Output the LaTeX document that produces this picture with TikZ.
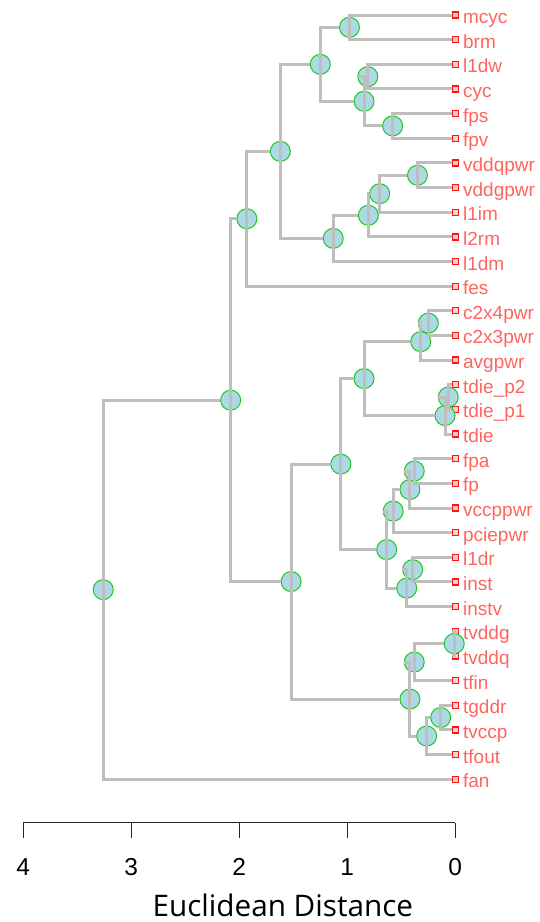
\documentclass[tikz,border=0pt]{standalone}
\usepackage{fontspec}
\setmainfont{Liberation Sans}
\newfontfamily\titlefont{Open Sans}
\usetikzlibrary{positioning}

\definecolor{linkgray}{RGB}{190,190,190}
\definecolor{dotblue}{RGB}{173,216,230}
\definecolor{dotgreen}{RGB}{30,200,30}
\definecolor{leafred}{RGB}{255,20,20}
\definecolor{leafpink}{RGB}{255,205,205}
\definecolor{labred}{RGB}{255,100,95}

\tikzset{
  merge/.style={circle, draw=dotgreen, fill=dotblue,
    line width=1pt, minimum size=20pt, inner sep=0pt},
  leaf/.style={rectangle, draw=leafred, fill=leafpink,
    line width=1.3pt, minimum size=6pt, inner sep=0pt},
  leaflab/.style={anchor=base west, inner sep=0pt, xshift=4pt, yshift=-8.5pt,
    text=labred, font=\fontsize{19}{19}\selectfont},
  link/.style={draw=linkgray, line width=3pt},
  axisline/.style={draw=black!85, line width=1.3pt},
  ticklab/.style={anchor=base, inner sep=0pt,
    font=\fontsize{24.5}{24.5}\selectfont},
  titlelab/.style={anchor=base, inner sep=0pt,
    font=\titlefont\fontsize{29.7}{29.7}\selectfont}
}

\begin{document}
\begin{tikzpicture}[x=-108pt, y=-1pt, on grid, node distance=24.65pt]

    \useasboundingbox (4.2157,0) rectangle (-0.7843,922);

    % leaves, height 0
    \node[leaf, label={[leaflab]right:mcyc}] (mcyc) at (0,15) {};
    \node[leaf, label={[leaflab]right:brm}, below=of mcyc] (brm) {};
    \node[leaf, label={[leaflab]right:l1dw}, below=of brm] (l1dw) {};
    \node[leaf, label={[leaflab]right:cyc}, below=of l1dw] (cyc) {};
    \node[leaf, label={[leaflab]right:fps}, below=of cyc] (fps) {};
    \node[leaf, label={[leaflab]right:fpv}, below=of fps] (fpv) {};
    \node[leaf, label={[leaflab]right:vddqpwr}, below=of fpv] (vddqpwr) {};
    \node[leaf, label={[leaflab]right:vddgpwr}, below=of vddqpwr] (vddgpwr) {};
    \node[leaf, label={[leaflab]right:l1im}, below=of vddgpwr] (l1im) {};
    \node[leaf, label={[leaflab]right:l2rm}, below=of l1im] (l2rm) {};
    \node[leaf, label={[leaflab]right:l1dm}, below=of l2rm] (l1dm) {};
    \node[leaf, label={[leaflab]right:fes}, below=of l1dm] (fes) {};
    \node[leaf, label={[leaflab]right:c2x4pwr}, below=of fes] (c2x4pwr) {};
    \node[leaf, label={[leaflab]right:c2x3pwr}, below=of c2x4pwr] (c2x3pwr) {};
    \node[leaf, label={[leaflab]right:avgpwr}, below=of c2x3pwr] (avgpwr) {};
    \node[leaf, label={[leaflab]right:tdie\_p2}, below=of avgpwr] (tdiep2) {};
    \node[leaf, label={[leaflab]right:tdie\_p1}, below=of tdiep2] (tdiep1) {};
    \node[leaf, label={[leaflab]right:tdie}, below=of tdiep1] (tdie) {};
    \node[leaf, label={[leaflab]right:fpa}, below=of tdie] (fpa) {};
    \node[leaf, label={[leaflab]right:fp}, below=of fpa] (fp) {};
    \node[leaf, label={[leaflab]right:vccppwr}, below=of fp] (vccppwr) {};
    \node[leaf, label={[leaflab]right:pciepwr}, below=of vccppwr] (pciepwr) {};
    \node[leaf, label={[leaflab]right:l1dr}, below=of pciepwr] (l1dr) {};
    \node[leaf, label={[leaflab]right:inst}, below=of l1dr] (inst) {};
    \node[leaf, label={[leaflab]right:instv}, below=of inst] (instv) {};
    \node[leaf, label={[leaflab]right:tvddg}, below=of instv] (tvddg) {};
    \node[leaf, label={[leaflab]right:tvddq}, below=of tvddg] (tvddq) {};
    \node[leaf, label={[leaflab]right:tfin}, below=of tvddq] (tfin) {};
    \node[leaf, label={[leaflab]right:tgddr}, below=of tfin] (tgddr) {};
    \node[leaf, label={[leaflab]right:tvccp}, below=of tgddr] (tvccp) {};
    \node[leaf, label={[leaflab]right:tfout}, below=of tvccp] (tfout) {};
    \node[leaf, label={[leaflab]right:fan}, below=of tfout] (fan) {};

    % merges at (height, middle of the two children)
    \node[merge] (root) at (3.26,589.65) {};
    \node[merge] (upper) at (2.08,400.16) {};
    \node[merge] (withfes) at (1.93,218.75) {};
    \node[merge] (cpu) at (1.62,151.35) {};
    \node[merge] (core) at (1.25,64.3) {};
    \node[merge] (mcbrm) at (0.98,27.33) {};
    \node[merge] (cycfp) at (0.845,101.28) {};
    \node[merge] (dwcyc) at (0.81,76.63) {};
    \node[merge] (fpsv) at (0.58,125.93) {};
    \node[merge] (mem) at (1.13,238.39) {};
    \node[merge] (memrm) at (0.805,215.28) {};
    \node[merge] (memim) at (0.70,193.71) {};
    \node[merge] (vddpwr) at (0.35,175.23) {};

    \node[merge] (lower) at (1.52,581.56) {};
    \node[merge] (pwrtemp) at (1.06,464.09) {};
    \node[merge] (pwrdie) at (0.845,378.59) {};
    \node[merge] (pwravg) at (0.32,341.61) {};
    \node[merge] (c2x) at (0.25,323.13) {};
    \node[merge] (dieall) at (0.095,415.56) {};
    \node[merge] (diep) at (0.065,397.08) {};
    \node[merge] (fpinst) at (0.635,549.6) {};
    \node[merge] (fpgrp) at (0.575,511.08) {};
    \node[merge] (fpvcc) at (0.42,489.51) {};
    \node[merge] (fpafp) at (0.38,471.03) {};
    \node[merge] (instgrp) at (0.45,588.11) {};
    \node[merge] (drinst) at (0.395,569.63) {};
    \node[merge] (therm) at (0.42,699.04) {};
    \node[merge] (tvdd) at (0.38,662.06) {};
    \node[merge] (tvddgq) at (0.01,643.58) {};
    \node[merge] (tgrp) at (0.265,736.01) {};
    \node[merge] (tgddrvccp) at (0.135,717.53) {};

    % links
    \draw[link] (root.center) |- (upper.west);
    \draw[link] (root.center) |- (fan.west);
    \draw[link] (upper.center) |- (withfes.west);
    \draw[link] (upper.center) |- (lower.west);
    \draw[link] (withfes.center) |- (cpu.west);
    \draw[link] (withfes.center) |- (fes.west);
    \draw[link] (cpu.center) |- (core.west);
    \draw[link] (cpu.center) |- (mem.west);
    \draw[link] (core.center) |- (mcbrm.west);
    \draw[link] (core.center) |- (cycfp.west);
    \draw[link] (mcbrm.center) |- (mcyc.west);
    \draw[link] (mcbrm.center) |- (brm.west);
    \draw[link] (cycfp.center) |- (dwcyc.west);
    \draw[link] (cycfp.center) |- (fpsv.west);
    \draw[link] (dwcyc.center) |- (l1dw.west);
    \draw[link] (dwcyc.center) |- (cyc.west);
    \draw[link] (fpsv.center) |- (fps.west);
    \draw[link] (fpsv.center) |- (fpv.west);
    \draw[link] (mem.center) |- (memrm.west);
    \draw[link] (mem.center) |- (l1dm.west);
    \draw[link] (memrm.center) |- (memim.west);
    \draw[link] (memrm.center) |- (l2rm.west);
    \draw[link] (memim.center) |- (vddpwr.west);
    \draw[link] (memim.center) |- (l1im.west);
    \draw[link] (vddpwr.center) |- (vddqpwr.west);
    \draw[link] (vddpwr.center) |- (vddgpwr.west);

    \draw[link] (lower.center) |- (pwrtemp.west);
    \draw[link] (lower.center) |- (therm.west);
    \draw[link] (pwrtemp.center) |- (pwrdie.west);
    \draw[link] (pwrtemp.center) |- (fpinst.west);
    \draw[link] (pwrdie.center) |- (pwravg.west);
    \draw[link] (pwrdie.center) |- (dieall.west);
    \draw[link] (pwravg.center) |- (c2x.west);
    \draw[link] (pwravg.center) |- (avgpwr.west);
    \draw[link] (c2x.center) |- (c2x4pwr.west);
    \draw[link] (c2x.center) |- (c2x3pwr.west);
    \draw[link] (dieall.center) |- (diep.west);
    \draw[link] (dieall.center) |- (tdie.west);
    \draw[link] (diep.center) |- (tdiep2.west);
    \draw[link] (diep.center) |- (tdiep1.west);
    \draw[link] (fpinst.center) |- (fpgrp.west);
    \draw[link] (fpinst.center) |- (instgrp.west);
    \draw[link] (fpgrp.center) |- (fpvcc.west);
    \draw[link] (fpgrp.center) |- (pciepwr.west);
    \draw[link] (fpvcc.center) |- (fpafp.west);
    \draw[link] (fpvcc.center) |- (vccppwr.west);
    \draw[link] (fpafp.center) |- (fpa.west);
    \draw[link] (fpafp.center) |- (fp.west);
    \draw[link] (instgrp.center) |- (drinst.west);
    \draw[link] (instgrp.center) |- (instv.west);
    \draw[link] (drinst.center) |- (l1dr.west);
    \draw[link] (drinst.center) |- (inst.west);
    \draw[link] (therm.center) |- (tvdd.west);
    \draw[link] (therm.center) |- (tgrp.west);
    \draw[link] (tvdd.center) |- (tvddgq.west);
    \draw[link] (tvdd.center) |- (tfin.west);
    \draw[link] (tvddgq.center) |- (tvddg.west);
    \draw[link] (tvddgq.center) |- (tvddq.west);
    \draw[link] (tgrp.center) |- (tgddrvccp.west);
    \draw[link] (tgrp.center) |- (tfout.west);
    \draw[link] (tgddrvccp.center) |- (tgddr.west);
    \draw[link] (tgddrvccp.center) |- (tvccp.west);

    % distance axis
    \draw[axisline] (4,822.7) -- (0,822.7);
    \foreach \d in {0,...,4} {
      \draw[axisline] (\d,822.7) -- (\d,838);
      \node[ticklab] (tick\d) at (\d,875) {\d};
    }
    \node[titlelab] (xtitle) at (1.597,916) {Euclidean Distance};

\end{tikzpicture}
\end{document}
